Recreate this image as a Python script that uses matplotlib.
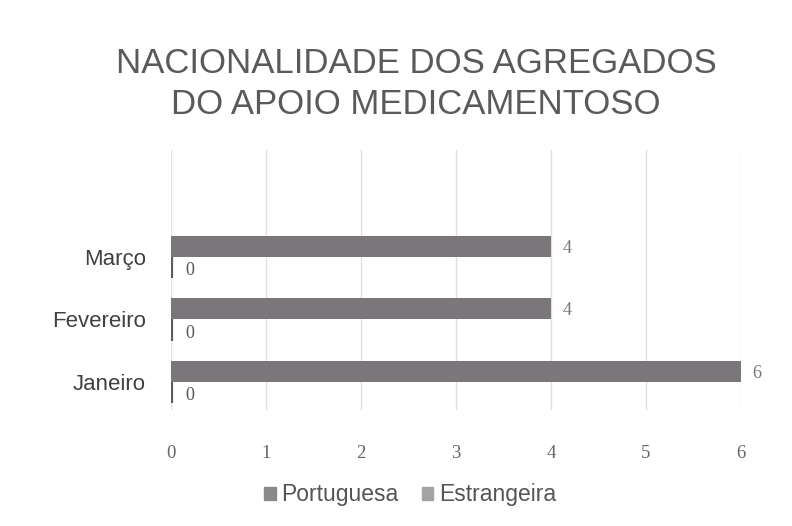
import numpy as np
import matplotlib.pyplot as plt

meses = ['Janeiro', 'Fevereiro', 'Março']
portuguesa = [6, 4, 4]
estrangeira = [0, 0, 0]
xticks = [0, 1, 2, 3, 4, 5, 6]

fig = plt.figure(figsize=(7.92, 5.26), dpi=100)
ax = fig.add_axes([171/792, 1 - 410/526, 570/792, 260/526])

y = np.arange(len(meses))
h = 0.34
bp = ax.barh(y + h/2, portuguesa, height=h, color='#7b767a', label='Portuguesa', zorder=3)
be = ax.barh(y - h/2, estrangeira, height=h, color='#5f5b5f', edgecolor='#5f5b5f',
             linewidth=3, label='Estrangeira', zorder=3)

for i in range(len(meses)):
    ax.text(portuguesa[i] + 0.12, y[i] + h/2 - 0.03, str(portuguesa[i]), va='center', ha='left',
            fontsize=13, color='#777777', family='Liberation Serif')
    ax.text(estrangeira[i] + 0.15, y[i] - h/2 - 0.05, str(estrangeira[i]), va='center', ha='left',
            fontsize=13, color='#555555', family='Liberation Serif')

ax.set_xlim(0, 6)
ax.set_ylim(-0.45, 3.71)
ax.set_xticks(xticks)
ax.set_xticklabels([str(t) for t in xticks], family='Liberation Serif', fontsize=13.5, color='#666666')
ax.set_yticks(y)
ax.set_yticklabels(meses, fontsize=16, color='#404040', family='Liberation Sans')
ax.tick_params(length=0)
ax.tick_params(axis='x', pad=25)
ax.tick_params(axis='y', pad=18)
ax.grid(axis='x', color='#e0e0e0', linewidth=1, zorder=0)
for s in ax.spines.values():
    s.set_visible(False)

fig.text(416/792, 1 - 84/526, 'NACIONALIDADE DOS AGREGADOS\nDO APOIO MEDICAMENTOSO',
         ha='center', va='center', fontsize=25, color='#5a5a5a',
         family='Liberation Sans', linespacing=1.28)

handles = [plt.Rectangle((0, 0), 1, 1, color='#8a8a8a'), plt.Rectangle((0, 0), 1, 1, color='#a3a3a3')]
leg = fig.legend(handles, ['Portuguesa', 'Estrangeira'], loc='center', bbox_to_anchor=(410/792, 1 - 495/526),
                 ncol=2, frameon=False, handlelength=0.5, handleheight=0.5,
                 handletextpad=0.25, columnspacing=1.0, prop={'family': 'Liberation Sans', 'size': 16.5})
for t in leg.get_texts():
    t.set_color('#555555')

plt.savefig('out.png', dpi=100)
